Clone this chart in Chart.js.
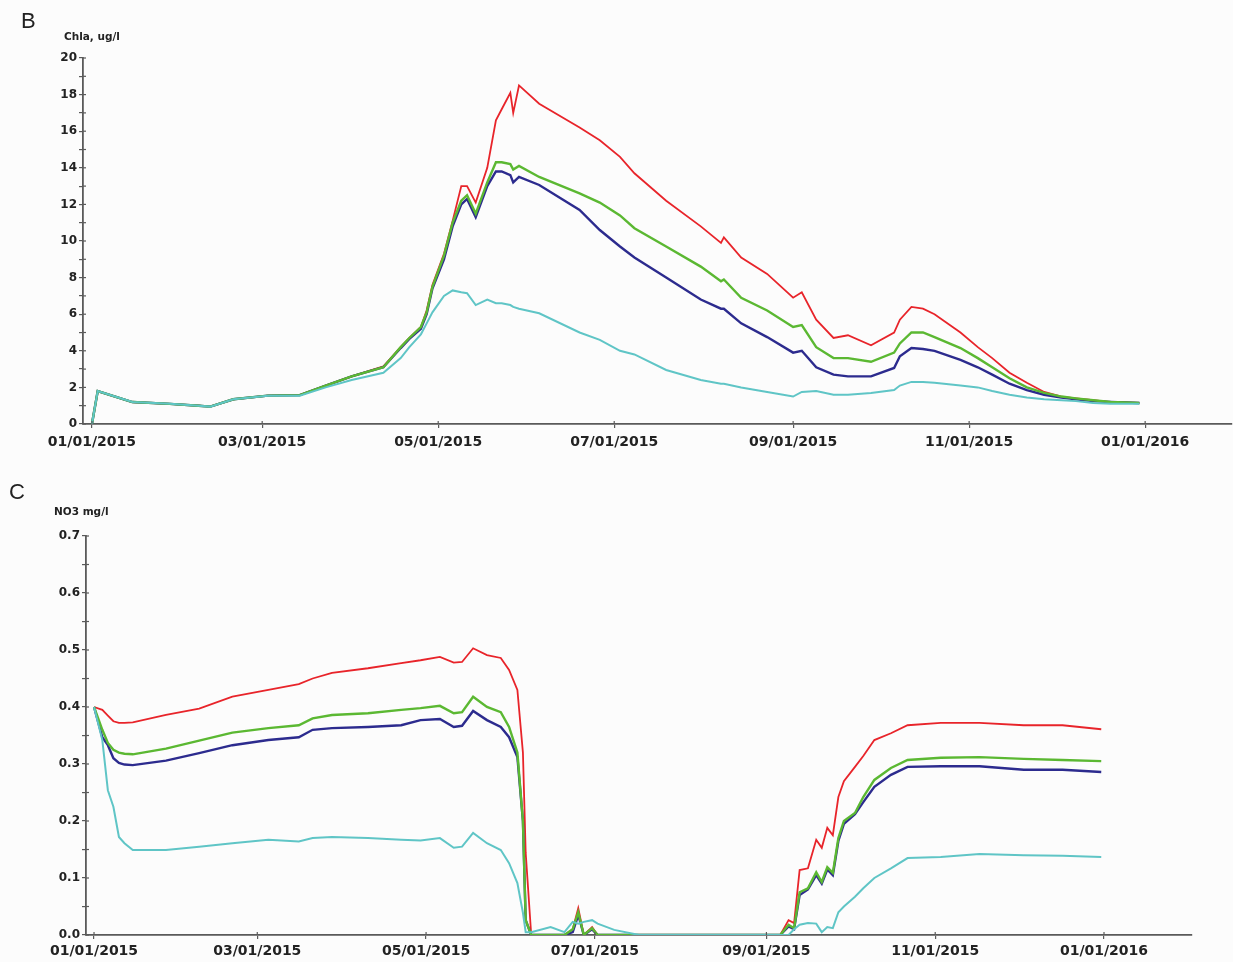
<!DOCTYPE html>
<html>
<head>
<meta charset="utf-8">
<script src="https://cdn.jsdelivr.net/npm/chart.js@4.4.1/dist/chart.umd.min.js"></script>
<style>
  body { margin: 0; background: #fcfcfc; }
  #wrap { position: relative; width: 1233px; height: 962px; }
  .box { position: absolute; left: 0; width: 1233px; }
  .letter { position: absolute; font-family: "Liberation Sans", Arial, sans-serif; font-size: 22px; color: #222; }
  .ytitle { position: absolute; font-family: "DejaVu Sans", sans-serif; font-weight: bold; font-size: 10.5px; color: #222; }
</style>
</head>
<body>
<div id="wrap">
  <div class="box" style="top:0;height:470px;"><canvas id="chartB" width="1233" height="470"></canvas></div>
  <div class="box" style="top:470px;height:492px;"><canvas id="chartC" width="1233" height="492"></canvas></div>
  <div class="letter" style="left:21px;top:8px;">B</div>
  <div class="ytitle" style="left:64px;top:30px;">Chla, ug/l</div>
  <div class="letter" style="left:9px;top:479px;">C</div>
  <div class="ytitle" style="left:54px;top:505px;">NO3 mg/l</div>
</div>
<script>
// x axis: days since 01/01/2015
var xTickDays = [0, 59, 120, 181, 243, 304, 365];
var xTickLabels = ['01/01/2015', '03/01/2015', '05/01/2015', '07/01/2015', '09/01/2015', '11/01/2015', '01/01/2016'];

// panel B - Chla, ug/l
var daysB = [0, 2, 14, 27, 37, 41, 49, 61, 72, 81, 90, 101, 107, 110, 114, 116, 118, 122, 125, 128, 130, 133,
  137, 140, 142, 145, 146, 148, 155, 169, 176, 183, 188, 199, 211, 218, 219, 225, 234, 243, 246, 251,
  257, 262, 270, 278, 280, 284, 288, 292, 301, 307, 312, 318, 324, 330, 336, 341, 347, 353, 363];
var chlaRed = [0, 1.8, 1.2, 1.1, 1.0, 0.95, 1.35, 1.55, 1.58, 2.1, 2.6, 3.15, 4.2, 4.7, 5.3, 6.2, 7.6, 9.3, 11.1, 13.0, 13.0, 12.1,
  14.0, 16.6, 17.2, 18.1, 17.0, 18.5, 17.5, 16.2, 15.5, 14.6, 13.7, 12.2, 10.8, 9.9, 10.2, 9.1, 8.2, 6.9, 7.2, 5.7,
  4.7, 4.85, 4.3, 5.0, 5.7, 6.4, 6.3, 6.0, 5.0, 4.2, 3.6, 2.8, 2.25, 1.75, 1.5, 1.4, 1.3, 1.2, 1.15];
var chlaGreen = [0, 1.8, 1.2, 1.1, 1.0, 0.95, 1.35, 1.55, 1.58, 2.1, 2.6, 3.1, 4.2, 4.7, 5.3, 6.1, 7.5, 9.2, 11.0, 12.2, 12.5, 11.5,
  13.2, 14.3, 14.3, 14.2, 13.9, 14.1, 13.5, 12.6, 12.1, 11.4, 10.7, 9.7, 8.6, 7.8, 7.9, 6.9, 6.2, 5.3, 5.4, 4.2,
  3.6, 3.6, 3.4, 3.9, 4.4, 5.0, 5.0, 4.75, 4.15, 3.6, 3.1, 2.5, 2.0, 1.7, 1.5, 1.4, 1.3, 1.2, 1.15];
var chlaBlue = [0, 1.8, 1.2, 1.1, 1.0, 0.95, 1.35, 1.55, 1.58, 2.1, 2.6, 3.1, 4.15, 4.65, 5.2, 6.0, 7.4, 9.0, 10.8, 12.0, 12.3, 11.3,
  13.0, 13.8, 13.8, 13.6, 13.2, 13.5, 13.06, 11.7, 10.6, 9.7, 9.1, 8.0, 6.8, 6.3, 6.3, 5.5, 4.75, 3.9, 4.0, 3.1,
  2.7, 2.6, 2.6, 3.06, 3.7, 4.15, 4.1, 4.0, 3.5, 3.1, 2.7, 2.2, 1.85, 1.6, 1.45, 1.35, 1.25, 1.2, 1.15];
var chlaCyan = [0, 1.8, 1.2, 1.1, 1.0, 0.95, 1.35, 1.55, 1.55, 2.0, 2.4, 2.8, 3.6, 4.2, 4.9, 5.5, 6.1, 7.0, 7.3, 7.2, 7.15, 6.5,
  6.8, 6.6, 6.6, 6.5, 6.4, 6.3, 6.05, 5.0, 4.6, 4.0, 3.8, 2.95, 2.4, 2.2, 2.2, 2.0, 1.75, 1.5, 1.75, 1.8,
  1.6, 1.6, 1.7, 1.86, 2.1, 2.3, 2.3, 2.25, 2.1, 2.0, 1.8, 1.6, 1.45, 1.35, 1.3, 1.25, 1.15, 1.1, 1.1];

// panel C - NO3 mg/l
var daysC = [0, 3, 5, 7, 9, 11, 14, 26, 38, 50, 63, 74, 79, 86, 99, 111, 118, 125, 130, 133, 137,
  142, 147, 150, 153, 155, 156, 158, 165, 170, 173, 175, 177, 180, 182, 188, 197, 210, 248, 251, 253,
  255, 258, 261, 263, 265, 267, 269, 271, 275, 278, 282, 288, 294, 306, 320, 336, 350, 364];
var no3Red = [0.4, 0.395, 0.385, 0.375, 0.372, 0.372, 0.373, 0.386, 0.397, 0.418, 0.43, 0.44, 0.45, 0.46, 0.468, 0.477, 0.482, 0.488, 0.478, 0.479, 0.503,
  0.491, 0.486, 0.465, 0.43, 0.32, 0.144, 0, 0, 0, 0.01, 0.047, 0, 0.014, 0, 0, 0, 0, 0, 0.026, 0.021,
  0.114, 0.117, 0.167, 0.153, 0.188, 0.175, 0.242, 0.27, 0.295, 0.314, 0.342, 0.354, 0.368, 0.372, 0.372, 0.368, 0.368, 0.361];
var no3Green = [0.4, 0.36, 0.337, 0.325, 0.32, 0.318, 0.317, 0.327, 0.341, 0.355, 0.363, 0.368, 0.38, 0.386, 0.389, 0.395, 0.398, 0.402, 0.389, 0.391, 0.418,
  0.4, 0.391, 0.365, 0.32, 0.2, 0.026, 0, 0, 0, 0.01, 0.04, 0, 0.012, 0, 0, 0, 0, 0, 0.018, 0.012,
  0.075, 0.082, 0.11, 0.093, 0.119, 0.109, 0.17, 0.2, 0.214, 0.242, 0.272, 0.293, 0.307, 0.311, 0.312, 0.309, 0.307, 0.305];
var no3Blue = [0.4, 0.347, 0.333, 0.31, 0.302, 0.299, 0.298, 0.306, 0.319, 0.333, 0.342, 0.347, 0.36, 0.363, 0.365, 0.368, 0.377, 0.379, 0.365, 0.367, 0.393,
  0.377, 0.365, 0.347, 0.312, 0.2, 0.026, 0, 0, 0, 0.005, 0.035, 0, 0.01, 0, 0, 0, 0, 0, 0.015, 0.01,
  0.07, 0.08, 0.105, 0.09, 0.115, 0.105, 0.165, 0.195, 0.212, 0.233, 0.26, 0.281, 0.295, 0.296, 0.296, 0.29, 0.29, 0.286];
var no3Cyan = [0.4, 0.342, 0.254, 0.225, 0.172, 0.161, 0.149, 0.149, 0.155, 0.161, 0.167, 0.164, 0.17, 0.172, 0.17, 0.167, 0.166, 0.17, 0.153, 0.155, 0.179,
  0.161, 0.149, 0.126, 0.091, 0.039, 0.005, 0.005, 0.014, 0.005, 0.023, 0.02, 0.023, 0.026, 0.02, 0.009, 0, 0, 0, 0, 0.01,
  0.018, 0.021, 0.02, 0.005, 0.014, 0.012, 0.04, 0.05, 0.067, 0.082, 0.1, 0.117, 0.135, 0.137, 0.142, 0.14, 0.139, 0.137];

var axisColor = '#5a5a5a';

// short tick marks on the inner side of both axes, so ticks cross the axis line
var innerTicks = {
  id: 'innerTicks',
  afterDraw: function (chart) {
    var ctx = chart.ctx, area = chart.chartArea;
    ctx.save();
    ctx.strokeStyle = axisColor;
    ctx.lineWidth = 1.2;
    chart.scales.y.ticks.forEach(function (t) {
      var py = chart.scales.y.getPixelForValue(t.value);
      ctx.beginPath(); ctx.moveTo(area.left, py); ctx.lineTo(area.left + 3, py); ctx.stroke();
    });
    chart.scales.x.ticks.forEach(function (t) {
      var px = chart.scales.x.getPixelForValue(t.value);
      ctx.beginPath(); ctx.moveTo(px, area.bottom); ctx.lineTo(px, area.bottom - 3); ctx.stroke();
    });
    ctx.restore();
  }
};

function pts(days, vals) {
  return days.map(function (d, i) { return { x: d, y: vals[i] }; });
}

function line(label, color, width, days, vals) {
  return {
    label: label,
    data: pts(days, vals),
    borderColor: color,
    borderWidth: width,
    pointRadius: 0,
    tension: 0,
    fill: false
  };
}

function panel(id, days, red, green, blue, cyan, xMin, xMax, yMax, yStep, yLabel, yWidth, xHeight, xPad, pad) {
  return new Chart(document.getElementById(id), {
    type: 'line',
    data: {
      // first dataset is drawn on top
      datasets: [
        line('cyan', '#5fc5c6', 2, days, cyan),
        line('green', '#5bb832', 2.4, days, green),
        line('blue', '#2c2b8e', 2.4, days, blue),
        line('red', '#e8242a', 1.8, days, red)
      ]
    },
    plugins: [innerTicks],
    options: {
      responsive: false,
      animation: false,
      layout: { padding: pad },
      plugins: { legend: { display: false }, tooltip: { enabled: false } },
      scales: {
        x: {
          type: 'linear',
          min: xMin,
          max: xMax,
          afterBuildTicks: function (scale) {
            scale.ticks = xTickDays.map(function (v) { return { value: v }; });
          },
          afterFit: function (scale) { scale.height = xHeight; },
          ticks: {
            autoSkip: false,
            maxRotation: 0,
            padding: xPad,
            color: '#222',
            font: { family: 'DejaVu Sans', weight: 'bold', size: 14 },
            callback: function (v) { return xTickLabels[xTickDays.indexOf(v)]; }
          },
          grid: { drawOnChartArea: false, tickLength: 4, color: axisColor, lineWidth: 1.2 },
          border: { color: axisColor, width: 1.8 }
        },
        y: {
          min: 0,
          max: yMax,
          afterFit: function (scale) { scale.width = yWidth; },
          ticks: {
            stepSize: yStep,
            autoSkip: false,
            padding: 2,
            color: '#222',
            font: { family: 'DejaVu Sans', weight: 'bold', size: 12 },
            callback: yLabel
          },
          grid: { drawOnChartArea: false, tickLength: 4, color: axisColor, lineWidth: 1.2 },
          border: { color: axisColor, width: 1.8 }
        }
      }
    }
  });
}

panel('chartB', daysB, chlaRed, chlaGreen, chlaBlue, chlaCyan, -3.1, 395.1, 20, 1,
  function (v) { return v % 2 === 0 ? String(v) : ''; },
  83, 46, 6, { top: 58, left: 0, right: 1, bottom: 0 });

panel('chartC', daysC, no3Red, no3Green, no3Blue, no3Cyan, -2.9, 396.8, 0.7, 0.05,
  function (v) { var n = Math.round(v * 100); return n % 10 === 0 ? (n / 100).toFixed(1) : ''; },
  86, 27, 4, { top: 66, left: 0, right: 41, bottom: 0 });
</script>
</body>
</html>
